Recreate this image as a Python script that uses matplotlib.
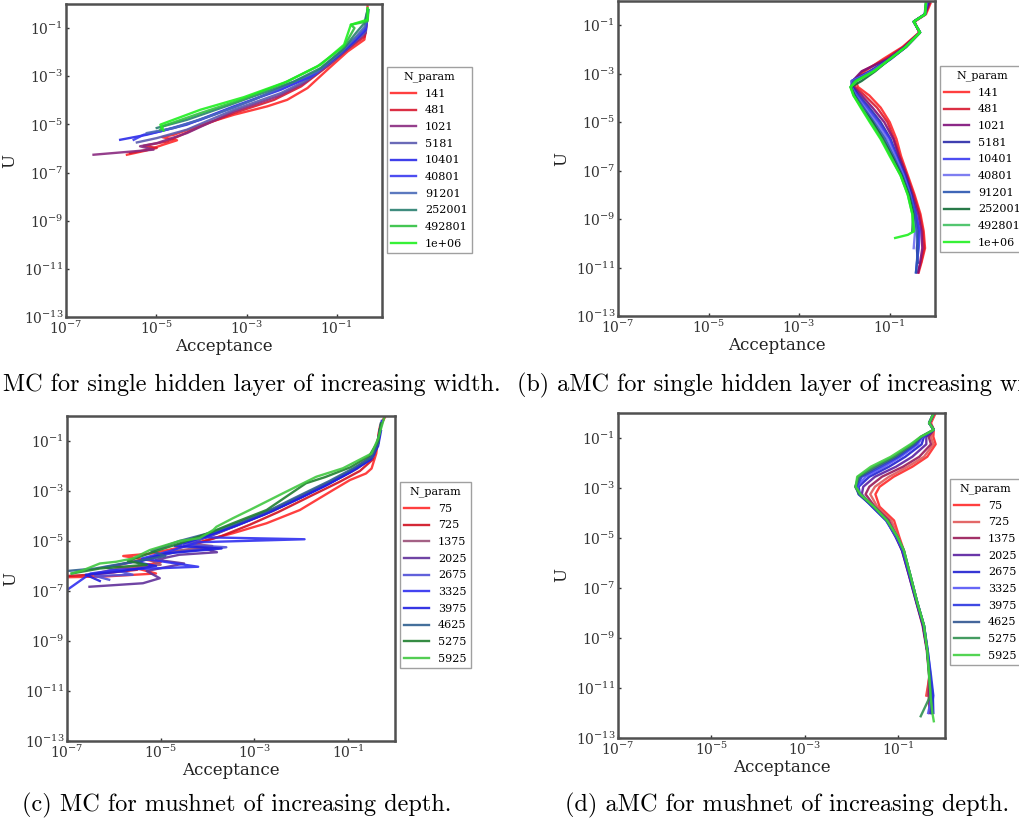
import matplotlib
matplotlib.use('Agg')
import matplotlib.pyplot as plt
import numpy as np

# values are log10(acceptance), log10(U)

# (a) MC, single hidden layer of increasing width
a_labels = ['141', '481', '1021', '5181', '10401', '40801', '91201', '252001', '492801', '1e+06']
a_colors = ['#ff2a2a', '#d81830', '#8a2a80', '#5a5ab0', '#2a2ae8', '#3a3af0', '#4a6ab8', '#2a8070', '#30c040', '#20f020']
a_series = {
    '141': ([-5.65, -5.21, -4.84, -4.54, -4.87, -4.61, -3.87, -3.28, -2.54, -2.10, -1.65, -1.21, -0.76, -0.39, -0.33, -0.32],
            [-6.26, -6.08, -5.84, -5.66, -5.53, -5.43, -4.94, -4.60, -4.25, -3.98, -3.49, -2.73, -1.97, -1.48, -0.65, -0.03]),
    '481': ([-5.58, -4.99, -5.28, -4.76, -4.02, -3.28, -2.39, -1.79, -1.21, -0.76, -0.38, -0.33],
            [-6.19, -5.98, -5.89, -5.71, -5.08, -4.53, -3.98, -3.42, -2.59, -1.87, -1.35, -0.38]),
    '1021': ([-6.39, -5.06, -5.36, -4.99, -4.32, -3.28, -2.32, -1.73, -1.13, -0.69, -0.36, -0.32],
             [-6.26, -6.05, -5.91, -5.78, -5.36, -4.46, -3.84, -3.29, -2.46, -1.76, -1.21, -0.38]),
    '5181': ([-5.43, -4.99, -4.32, -3.28, -2.24, -1.65, -1.06, -0.65, -0.36, -0.32],
             [-5.75, -5.57, -5.22, -4.39, -3.70, -3.15, -2.32, -1.63, -1.14, -0.38]),
    '10401': ([-5.80, -5.21, -4.32, -3.28, -2.24, -1.58, -0.99, -0.61, -0.36, -0.32],
              [-5.64, -5.43, -5.01, -4.25, -3.56, -3.01, -2.18, -1.55, -1.07, -0.25]),
    '40801': ([-5.50, -5.28, -4.91, -4.02, -3.13, -2.17, -1.50, -0.99, -0.61, -0.36, -0.30],
              [-5.64, -5.43, -5.29, -4.81, -4.18, -3.45, -2.94, -2.11, -1.46, -1.00, -0.25]),
    '91201': ([-5.21, -4.61, -3.72, -2.84, -2.10, -1.43, -0.91, -0.58, -0.38, -0.32],
              [-5.36, -5.15, -4.60, -3.98, -3.35, -2.80, -2.01, -1.37, -0.93, -0.25]),
    '252001': ([-4.99, -4.32, -3.43, -2.54, -1.95, -1.36, -0.87, -0.58, -0.39, -0.32],
               [-5.15, -4.81, -4.23, -3.63, -3.22, -2.66, -1.90, -1.21, -0.79, -0.25]),
    '492801': ([-4.91, -4.84, -4.02, -3.13, -2.17, -1.43, -0.84, -0.61, -0.69, -0.32, -0.30],
               [-5.22, -5.06, -4.53, -3.98, -3.28, -2.59, -1.76, -1.00, -0.86, -0.72, -0.25]),
    '1e+06': ([-4.84, -4.91, -4.02, -3.06, -2.10, -1.36, -0.84, -0.69, -0.32, -0.32],
              [-5.25, -5.01, -4.39, -3.87, -3.22, -2.52, -1.69, -0.86, -0.65, -0.17]),
}

# (b) aMC, single hidden layer of increasing width
b_labels = a_labels
b_colors = ['#ff2a2a', '#d81830', '#80107a', '#2a2aa8', '#3a3af0', '#7070f0', '#2a55b0', '#106a35', '#40c060', '#20f020']
b_u = [-0.1, -0.55, -0.85, -1.3, -1.9, -2.4, -2.9, -3.3, -3.55, -3.9, -4.4, -5.0, -5.7, -6.4, -7.2, -8.0, -8.8, -9.5, -10.2, -10.8, -11.2]
b_series = {
    '141': ([-0.10, -0.20, -0.45, -0.35, -0.72, -1.15, -1.55, -1.75, -1.70, -1.45, -1.20, -1.00, -0.85, -0.75, -0.60, -0.45, -0.32, -0.25, -0.22, -0.30, -0.36], b_u),
    '481': ([-0.12, -0.22, -0.46, -0.34, -0.70, -1.10, -1.60, -1.80, -1.76, -1.55, -1.28, -1.05, -0.90, -0.78, -0.62, -0.47, -0.34, -0.27, -0.24, -0.31, -0.38], b_u),
    '1021': ([-0.13, -0.22, -0.47, -0.34, -0.68, -1.05, -1.62, -1.82, -1.80, -1.62, -1.38, -1.12, -0.92, -0.80, -0.63, -0.50, -0.37, -0.30, -0.28, -0.33, -0.37], b_u),
    '5181': ([-0.16, -0.23, -0.47, -0.33, -0.66, -1.02, -1.45, -1.84, -1.82, -1.68, -1.45, -1.20, -0.98, -0.84, -0.66, -0.52, -0.42, -0.36, -0.40, -0.38], b_u[:20]),
    '10401': ([-0.18, -0.22, -0.47, -0.33, -0.65, -1.00, -1.40, -1.84, -1.84, -1.72, -1.50, -1.25, -1.00, -0.86, -0.68, -0.54, -0.42, -0.34, -0.36, -0.40, -0.42], b_u),
    '40801': ([-0.19, -0.22, -0.47, -0.33, -0.64, -0.98, -1.38, -1.82, -1.85, -1.75, -1.55, -1.30, -1.05, -0.88, -0.70, -0.55, -0.46, -0.44, -0.47], b_u[:19]),
    '91201': ([-0.20, -0.23, -0.47, -0.33, -0.64, -0.98, -1.36, -1.80, -1.86, -1.76, -1.58, -1.35, -1.10, -0.92, -0.72, -0.56, -0.45, -0.40, -0.38, -0.40, -0.42], b_u),
    '252001': ([-0.20, -0.22, -0.47, -0.33, -0.64, -1.00, -1.32, -1.62, -1.86, -1.78, -1.62, -1.38, -1.15, -0.95, -0.74, -0.58, -0.48, -0.50], b_u[:18]),
    '492801': ([-0.20, -0.22, -0.47, -0.33, -0.65, -1.00, -1.35, -1.72, -1.86, -1.80, -1.62, -1.42, -1.18, -0.98, -0.76, -0.60, -0.50, -0.48], b_u[:18]),
    '1e+06': ([-0.20, -0.22, -0.47, -0.33, -0.65, -1.00, -1.35, -1.75, -1.87, -1.80, -1.64, -1.44, -1.20, -1.00, -0.76, -0.60, -0.50, -0.46, -0.60, -0.88],
              b_u[:18] + [-9.65, -9.78]),
}

# (c) MC, mushnet of increasing depth
c_labels = ['75', '725', '1375', '2025', '2675', '3325', '3975', '4625', '5275', '5925']
c_colors = ['#ff2a2a', '#d01020', '#9a5078', '#60309a', '#5050d8', '#3030f0', '#2020e0', '#306090', '#208030', '#40c840']
c_series = {
    '75': ([-0.20, -0.32, -0.36, -0.40, -0.50, -0.62, -0.96, -1.32, -2.03, -2.74, -3.46, -4.00, -4.52, -5.20, -5.80, -5.00, -5.60, -5.10, -6.20, -7.00],
           [0.00, -0.40, -0.90, -1.50, -2.10, -2.30, -2.56, -2.96, -3.76, -4.29, -4.69, -4.95, -5.23, -5.50, -5.60, -5.85, -6.05, -6.30, -6.42, -6.45]),
    '725': ([-0.22, -0.34, -0.38, -0.48, -0.75, -1.20, -1.80, -2.50, -3.10, -3.70, -4.30, -4.00, -4.80, -5.40, -6.00, -5.50, -6.50, -7.00],
            [0.00, -0.60, -1.20, -1.75, -2.20, -2.65, -3.20, -3.85, -4.35, -4.80, -5.15, -5.30, -5.45, -5.75, -6.00, -6.15, -6.35, -6.40]),
    '1375': ([-0.30, -0.36, -0.45, -0.80, -1.30, -1.90, -2.60, -3.20, -3.80, -4.40, -3.90, -4.70, -5.30, -5.00, -5.90, -6.40],
             [-0.30, -1.00, -1.60, -2.10, -2.60, -3.15, -3.80, -4.25, -4.70, -5.10, -5.20, -5.40, -5.70, -5.95, -6.10, -6.30]),
    '2025': ([-0.28, -0.36, -0.45, -0.85, -1.35, -1.95, -2.65, -3.30, -3.81, -4.40, -3.80, -4.60, -5.10, -4.50, -5.30, -5.02, -5.38, -6.52],
             [-0.20, -0.90, -1.55, -2.10, -2.60, -3.15, -3.78, -4.30, -4.70, -5.10, -5.45, -5.55, -5.75, -5.90, -6.20, -6.49, -6.69, -6.83]),
    '2675': ([-0.30, -0.36, -0.48, -0.90, -1.40, -2.00, -2.70, -3.35, -3.90, -4.50, -3.60, -4.70, -5.30, -6.20, -5.60, -6.40, -6.10],
             [-0.30, -1.00, -1.60, -2.15, -2.70, -3.25, -3.85, -4.35, -4.75, -5.15, -5.25, -5.45, -5.75, -6.05, -6.35, -6.40, -6.55]),
    '3325': ([-0.28, -0.36, -0.50, -0.92, -1.45, -2.05, -2.75, -3.40, -4.10, -1.93, -4.20, -4.80, -5.40, -4.20, -5.90, -6.50, -7.00],
             [-0.20, -1.10, -1.70, -2.20, -2.75, -3.30, -3.90, -4.40, -4.85, -4.93, -5.05, -5.40, -5.70, -6.03, -6.15, -6.30, -6.96]),
    '3975': ([-0.30, -0.36, -0.52, -0.95, -1.50, -2.10, -2.80, -3.50, -4.10, -4.70, -3.70, -4.90, -5.50, -5.10, -6.00, -6.60, -6.30],
             [-0.60, -1.20, -1.75, -2.25, -2.80, -3.35, -3.95, -4.45, -4.85, -5.20, -5.30, -5.50, -5.85, -6.00, -6.25, -6.35, -6.60]),
    '4625': ([-0.32, -0.36, -0.50, -0.90, -1.40, -1.95, -2.60, -3.25, -3.90, -4.60, -5.20, -4.90, -5.80, -6.40, -7.00],
             [-0.50, -1.10, -1.65, -2.10, -2.60, -3.10, -3.70, -4.20, -4.65, -5.00, -5.40, -5.60, -5.90, -6.10, -6.20]),
    '5275': ([-0.30, -0.36, -0.55, -0.95, -1.50, -1.90, -2.74, -3.46, -4.00, -4.60, -5.10, -5.70, -5.30, -6.30, -6.90],
             [-0.30, -1.00, -1.60, -2.05, -2.45, -2.69, -3.76, -4.29, -4.70, -5.10, -5.40, -5.80, -5.95, -6.10, -6.30]),
    '5925': ([-0.22, -0.36, -0.50, -1.11, -1.68, -2.39, -3.10, -3.46, -3.81, -3.88, -4.17, -4.60, -5.23, -5.60, -5.95, -6.30, -6.66, -6.90],
             [0.00, -0.90, -1.50, -2.09, -2.43, -3.09, -3.76, -4.09, -4.43, -4.56, -4.89, -5.00, -5.36, -5.70, -5.83, -5.90, -6.17, -6.30]),
}

# (d) aMC, mushnet of increasing depth
d_labels = c_labels
d_colors = ['#ff2a2a', '#e05858', '#981a58', '#5a20a0', '#2020d0', '#5555f5', '#2a35e0', '#305590', '#309050', '#40d040']
d_u = [0.0, -0.4, -0.67, -0.95, -1.25, -1.75, -2.15, -2.55, -2.95, -3.25, -3.75, -4.3, -4.95, -5.5, -6.5, -7.6, -8.5, -9.5, -10.5, -11.3, -12.0]
d_series = {
    '75': ([-0.20, -0.30, -0.24, -0.25, -0.20, -0.38, -0.70, -1.10, -1.40, -1.49, -1.40, -1.09, -0.98, -0.88, -0.76, -0.60, -0.47, -0.38, -0.33, -0.40], d_u[:20]),
    '725': ([-0.22, -0.32, -0.24, -0.30, -0.25, -0.45, -0.80, -1.20, -1.50, -1.60, -1.45, -1.15, -1.00, -0.90, -0.76, -0.60, -0.47, -0.38, -0.33, -0.38], d_u[:20]),
    '1375': ([-0.23, -0.33, -0.24, -0.35, -0.30, -0.55, -0.90, -1.35, -1.62, -1.70, -1.50, -1.20, -1.04, -0.92, -0.77, -0.61, -0.48, -0.39, -0.34, -0.35, -0.33], d_u),
    '2025': ([-0.24, -0.34, -0.24, -0.40, -0.40, -0.70, -1.05, -1.50, -1.75, -1.78, -1.55, -1.25, -1.06, -0.92, -0.77, -0.61, -0.47, -0.38, -0.33, -0.32, -0.30], d_u),
    '2675': ([-0.24, -0.34, -0.24, -0.45, -0.50, -0.85, -1.20, -1.62, -1.85, -1.82, -1.56, -1.26, -1.05, -0.91, -0.76, -0.60, -0.46, -0.38, -0.32, -0.26, -0.25], d_u),
    '3325': ([-0.24, -0.34, -0.24, -0.48, -0.58, -0.95, -1.30, -1.70, -1.88, -1.84, -1.55, -1.26, -1.04, -0.90, -0.75, -0.59, -0.45, -0.37, -0.31, -0.28, -0.36], d_u),
    '3975': ([-0.24, -0.34, -0.24, -0.50, -0.62, -1.00, -1.38, -1.78, -1.90, -1.85, -1.54, -1.25, -1.03, -0.89, -0.74, -0.59, -0.45, -0.37, -0.30, -0.25, -0.30], d_u),
    '4625': ([-0.24, -0.34, -0.24, -0.50, -0.66, -1.05, -1.45, -1.82, -1.92, -1.84, -1.53, -1.24, -1.02, -0.88, -0.74, -0.59, -0.45, -0.38, -0.33, -0.30, -0.28], d_u),
    '5275': ([-0.24, -0.34, -0.24, -0.52, -0.70, -1.10, -1.52, -1.86, -1.92, -1.82, -1.52, -1.24, -1.02, -0.88, -0.74, -0.59, -0.45, -0.38, -0.34, -0.31, -0.52],
             d_u[:20] + [-12.13]),
    '5925': ([-0.24, -0.34, -0.24, -0.52, -0.74, -1.16, -1.59, -1.88, -1.91, -1.81, -1.52, -1.24, -1.02, -0.88, -0.74, -0.59, -0.45, -0.38, -0.34, -0.31, -0.27, -0.24],
             d_u + [-12.33]),
}

captions = ['(a) MC for single hidden layer of increasing width.',
            '(b) aMC for single hidden layer of increasing width.',
            '(c) MC for mushnet of increasing depth.',
            '(d) aMC for mushnet of increasing depth.']

plt.rcParams['font.family'] = 'DejaVu Serif'
plt.rcParams['mathtext.fontset'] = 'dejavuserif'


def draw_panel(fig, rect, series, labels, colors, legend_xy):
    ax = fig.add_axes(rect)
    for lab, col in zip(labels, colors):
        acc, u = series[lab]
        ax.loglog(10.0 ** np.array(acc), 10.0 ** np.array(u), color=col, lw=1.7, alpha=0.9, label=lab)
    ax.set_xlim(1e-7, 1)
    ax.set_ylim(1e-13, 1)
    ax.set_xticks([1e-7, 1e-5, 1e-3, 1e-1])
    ax.set_yticks([1e-13, 1e-11, 1e-9, 1e-7, 1e-5, 1e-3, 1e-1])
    ax.minorticks_off()
    ax.tick_params(direction='in', length=2, width=1, colors='#333333', labelsize=10, pad=2)
    for sp in ax.spines.values():
        sp.set_color('#505050')
        sp.set_linewidth(1.8)
    ax.set_xlabel('Acceptance', fontsize=12, labelpad=1, color='#222222')
    ax.set_ylabel('U', fontsize=12, labelpad=4, color='#222222')
    leg = ax.legend(title='N_param', loc='upper left', bbox_to_anchor=legend_xy,
                    bbox_transform=fig.transFigure, fontsize=8, title_fontsize=8,
                    fancybox=False, borderaxespad=0, handlelength=2.2, labelspacing=0.6)
    leg.get_frame().set_edgecolor('#888888')
    leg.get_frame().set_linewidth(1.0)
    return ax


fig = plt.figure(figsize=(10.2, 8.27), dpi=100)
W, H = 1020.0, 827.0

draw_panel(fig, [66 / W, 1 - 317 / H, 316 / W, 313 / H], a_series, a_labels, a_colors, (387 / W, 1 - 67 / H))
draw_panel(fig, [618 / W, 1 - 316 / H, 317 / W, 315 / H], b_series, b_labels, b_colors, (940 / W, 1 - 66 / H))
draw_panel(fig, [67 / W, 1 - 741 / H, 328 / W, 325 / H], c_series, c_labels, c_colors, (400 / W, 1 - 482 / H))
draw_panel(fig, [618 / W, 1 - 738 / H, 327 / W, 325 / H], d_series, d_labels, d_colors, (950 / W, 1 - 479 / H))

cap_font = ['cmr10', 'DejaVu Serif']
fig.text(501 / W, 1 - 385 / H, captions[0], ha='right', va='center', fontsize=17.4, family=cap_font)
fig.text(517 / W, 1 - 385 / H, captions[1], ha='left', va='center', fontsize=17.4, family=cap_font)
fig.text(22 / W, 1 - 805 / H, captions[2], ha='left', va='center', fontsize=17.5, family=cap_font)
fig.text(565 / W, 1 - 805 / H, captions[3], ha='left', va='center', fontsize=17.5, family=cap_font)

fig.savefig('out.png', dpi=100)
